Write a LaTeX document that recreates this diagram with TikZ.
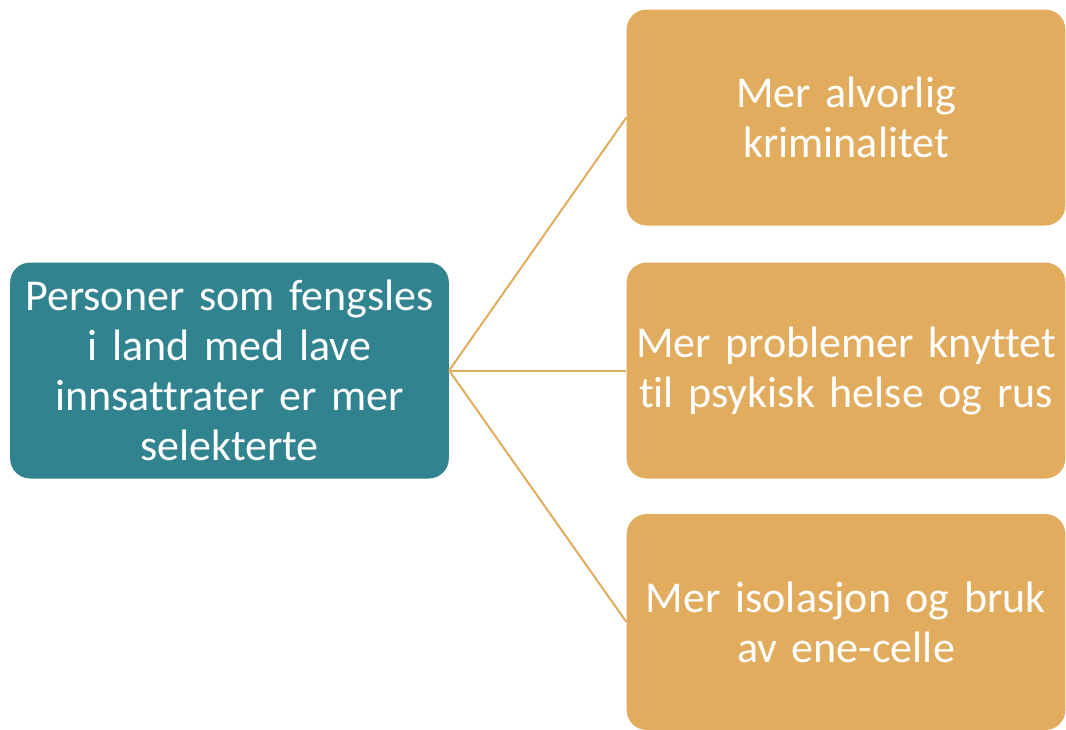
\documentclass[tikz,border=0pt]{standalone}
\usepackage{fontspec}
\setmainfont{Carlito}[Ligatures={NoCommon}]
\definecolor{tealbox}{HTML}{31838F}
\definecolor{orangebox}{HTML}{E2AC5E}
\begin{document}
\begin{tikzpicture}[x=0.75pt,y=-0.75pt,
  box/.style={rectangle, rounded corners=15pt, minimum width=329pt, minimum height=162pt,
    text width=327pt, align=center, text=white, inner sep=0pt,
    font=\fontsize{33}{37.5}\selectfont},
  leftbox/.style={box, fill=tealbox},
  rightbox/.style={box, fill=orangebox},
  link/.style={draw=orangebox, line width=1.5pt}]
\useasboundingbox (0,0) rectangle (1066,729);
\node[leftbox] (L) at (229.5,370.5) {Personer som fengsles\\i land med lave\\innsattrater er mer\\selekterte};
\node[rightbox] (A) at (846,117.5) {Mer alvorlig\\kriminalitet};
\node[rightbox] (B) at (846,370.5) {Mer problemer knyttet\\til psykisk helse og rus};
\node[rightbox] (C) at (846,622) {Mer isolasjon og bruk\\av ene-celle};
\draw[link] (L.east) -- (A.west);
\draw[link] (L.east) -- (B.west);
\draw[link] (L.east) -- (C.west);
\end{tikzpicture}
\end{document}
